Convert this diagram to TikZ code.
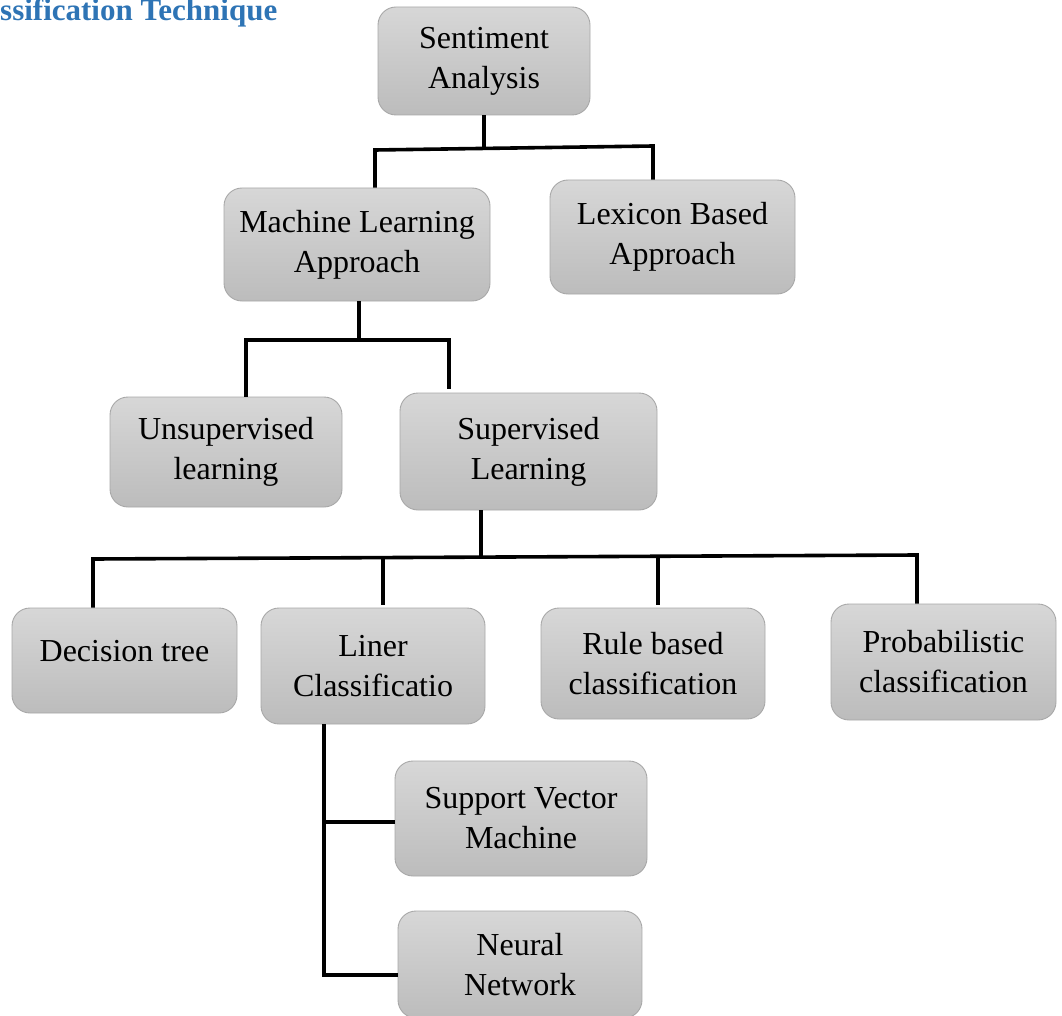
\documentclass[tikz,border=0pt]{standalone}
\usepackage{fontspec}
\setmainfont{Liberation Serif}
\definecolor{boxtop}{HTML}{D7D7D7}
\definecolor{boxbot}{HTML}{BCBCBC}
\definecolor{boxline}{HTML}{A8A8A8}
\definecolor{titleblue}{HTML}{2E74B5}
\begin{document}
\begin{tikzpicture}[x=1pt,y=-1pt,
  box/.style={rectangle, rounded corners=18pt, draw=boxline, line width=0.9pt,
    top color=boxtop, bottom color=boxbot, align=center, inner sep=0pt,
    font=\fontsize{32}{40}\selectfont},
  conn/.style={line width=3.6pt, black}]
\useasboundingbox (0,0) rectangle (1062,1016);

\node[anchor=base west, inner sep=0pt, text=titleblue,
  font=\bfseries\fontsize{31}{34}\selectfont] (title) at (0,21) {ssification Technique};

\node[box, minimum width=212pt, minimum height=108pt] (sa)  at (484,61)    {Sentiment\\Analysis};
\node[box, minimum width=266pt, minimum height=113pt] (ml)  at (357,244.5) {Machine Learning\\Approach};
\node[box, minimum width=245pt, minimum height=114pt] (lex) at (672.5,237) {Lexicon Based\\Approach};
\node[box, minimum width=232pt, minimum height=110pt] (uns) at (226,452)   {Unsupervised\\learning};
\node[box, minimum width=257pt, minimum height=117pt] (sup) at (528.5,451.5) {Supervised\\Learning};
\node[box, minimum width=225pt, minimum height=105pt] (dt)  at (124.5,660.5) {\raisebox{9pt}[\height][\depth]{Decision tree}};
\node[box, minimum width=224pt, minimum height=116pt] (lc)  at (373,666)   {Liner\\Classificatio};
\node[box, minimum width=224pt, minimum height=111pt] (rb)  at (653,663.5) {Rule based\\classification};
\node[box, minimum width=225pt, minimum height=116pt] (pc)  at (943.5,662) {Probabilistic\\classification};
\node[box, minimum width=252pt, minimum height=115pt] (svm) at (521,818.5) {Support Vector\\Machine};
\node[box, minimum width=244pt, minimum height=107pt] (nn)  at (520,964.5) {Neural\\Network};

% level 1
\coordinate (b1l) at (375,150);
\coordinate (b1r) at (653,146);
\draw[conn] (sa.south) -- (sa.south |- b1l);
\draw[conn] (b1l |- ml.north) -- (b1l) -- (b1r) -- (b1r |- lex.north);

% level 2
\coordinate (b2l) at (246,340);
\coordinate (b2r) at (449,340);
\draw[conn] (ml.south) ++(2,0) coordinate (m2) -- (m2 |- b2l);
\draw[conn] (b2l |- uns.north) -- (b2l) -- (b2r) -- (449,389);

% level 3
\coordinate (b3l) at (93,559);
\coordinate (b3r) at (917,555);
\draw[conn] (481,510) -- (481,557);
\draw[conn] (b3l |- dt.north) -- (b3l) -- (b3r) -- (b3r |- pc.north);
\draw[conn] (383,557) -- (383,605);
\draw[conn] (658,556) -- (658,605);

% level 4
\coordinate (v4) at (324,975);
\draw[conn] (v4 |- lc.south) -- (v4) -- (v4 -| nn.west);
\draw[conn] (v4 |- 0,822) -- (svm.west |- 0,822);
\end{tikzpicture}
\end{document}
